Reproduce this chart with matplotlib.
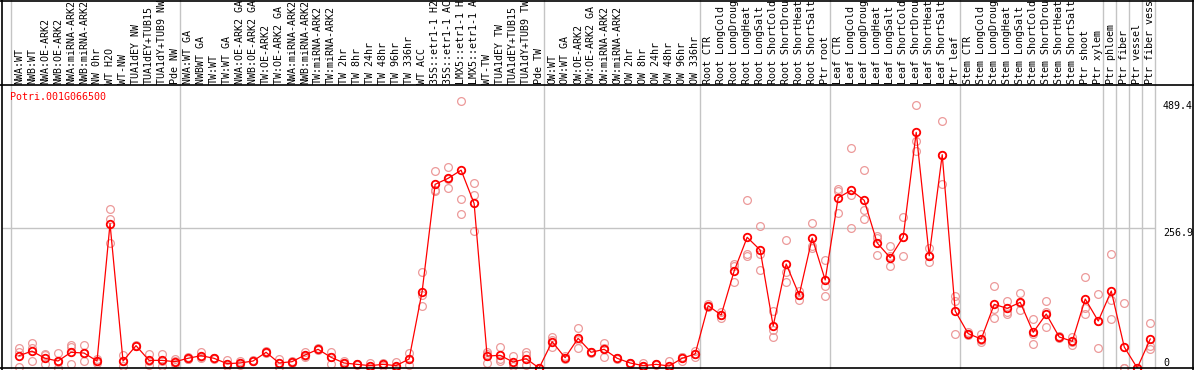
import matplotlib
matplotlib.use("Agg")
import matplotlib.pyplot as plt
from matplotlib.lines import Line2D

GENE = "Potri.001G066500"

# condition names, one list per block of the chart
group_names = [
    ["NWA:WT", "NWB:WT", "NWA:OE-ARK2", "NWB:OE-ARK2", "NWA:miRNA-ARK2", "NWB:miRNA-ARK2",
     "NW 0hr", "WT H2O", "WT-NW", "TUA1dEY NW", "TUA1dEY+TUB15", "TUA1dY+TUB9 NW", "Pde NW"],
    ["NWA:WT GA", "NWBWT GA", "TW:WT", "TW:WT GA", "NWA:OE-ARK2 GA", "NWB:OE-ARK2 GA",
     "TW:OE-ARK2", "TW:OE-ARK2 GA", "NWA:miRNA-ARK2", "NWB:miRNA-ARK2", "TW:miRNA-ARK2",
     "TW:miRNA-ARK2", "TW 2hr", "TW 8hr", "TW 24hr", "TW 48hr", "TW 96hr", "TW 336hr",
     "WT ACC", "35S::etr1-1 H2O", "35S::etr1-1 ACC", "LMX5::etr1-1 H2O", "LMX5::etr1-1 ACC",
     "WT-TW", "TUA1dEY TW", "TUA1dEY+TUB15", "TUA1dY+TUB9 TW", "Pde TW"],
    ["OW:WT", "OW:WT GA", "OW:OE-ARK2", "OW:OE-ARK2 GA", "OW:miRNA-ARK2", "OW:miRNA-ARK2",
     "OW 2hr", "OW 8hr", "OW 24hr", "OW 48hr", "OW 96hr", "OW 336hr"],
    ["Root CTR", "Root LongCold", "Root LongDrought", "Root LongHeat", "Root LongSalt",
     "Root ShortCold", "Root ShortDrought", "Root ShortHeat", "Root ShortSalt", "Ptr root"],
    ["Leaf CTR", "Leaf LongCold", "Leaf LongDrought", "Leaf LongHeat", "Leaf LongSalt",
     "Leaf ShortCold", "Leaf ShortDrought", "Leaf ShortHeat", "Leaf ShortSalt", "Ptr leaf"],
    ["Stem CTR", "Stem LongCold", "Stem LongDrought", "Stem LongHeat", "Stem LongSalt",
     "Stem ShortCold", "Stem ShortDrought", "Stem ShortHeat", "Stem ShortSalt",
     "Ptr shoot", "Ptr xylem"],
    ["Ptr phloem"],
    ["Ptr fiber"],
    ["Ptr vessel"],
    ["Ptr fiber vessel"],
]

mean_values = [
    22.6, 31, 17.8, 12.8, 28.8, 27.5, 12.8, 264.8, 12.8, 41, 14, 14, 11.6,
    17.8, 22.6, 17.8, 8, 9.2, 12.8, 28.8, 9.2, 11.6, 23.9, 34.3, 19.6, 9.2, 6.7, 4.3, 6.7,
    4.3, 16.5, 140, 337, 348, 363, 302, 22, 23.2, 11, 17, 0,
    48.3, 19, 54.5, 28.8, 34.3, 17.8, 9.2, 4.3, 6.7, 3.7, 17.8, 25.7,
    114.4, 97.2, 178, 239.8, 216.5, 77, 190.8, 134, 238.5, 161.5,
    312.5, 326, 307.7, 229.4, 202.4, 240.4, 432.4, 206, 391.4, 104.6,
    63, 53.2, 116.8, 109.5, 120.5, 65.5, 99, 56.9, 49, 126.6, 86.2,
    141.3, 38.5, 0, 53.2,
]

replicate_values = [
    [37, 30, 2], [45, 36, 12], [25, 23, 7], [27, 11, 0], [42, 38, 7], [42, 28, 12],
    [17, 12, 9], [291, 273, 230], [24, 12, 3], [43, 40, 40], [26, 12, 5], [26, 12, 3],
    [16, 12, 7],
    [20, 17, 16], [30, 20, 18], [19, 18, 16], [14, 8, 3], [13, 9, 6], [14, 13, 12],
    [31, 29, 27], [16, 10, 2], [13, 11, 9], [30, 22, 20], [36, 34, 33], [30, 21, 8],
    [12, 9, 7], [7, 7, 6], [9, 4, 0], [9, 7, 4], [11, 2, 0], [28, 17, 5],
    [176, 134, 114], [362, 327, 324], [369, 347, 331], [489.4, 311, 283], [339, 317, 251],
    [30, 26, 10], [39, 17, 13], [22, 8, 4], [29, 23, 5], [0, 0, 0],
    [56, 51, 38], [22, 19, 16], [74, 52, 37], [30, 29, 27], [46, 36, 21], [19, 18, 17],
    [10, 9, 8], [9, 3, 2], [8, 7, 5], [12, 0, 0], [21, 20, 13], [31, 26, 20],
    [117, 114, 112], [103, 98, 91], [190, 188, 158], [308, 210, 205], [260, 210, 179],
    [105, 69, 56], [235, 176, 157], [141, 134, 124], [266, 223, 220], [198, 150, 133],
    [325, 328, 284], [404, 318, 256], [363, 290, 273], [242, 239, 207], [224, 205, 188],
    [277, 240, 205], [483, 416, 399], [220, 206, 195], [453, 390, 337], [132, 123, 62],
    [66, 63, 60], [62, 51, 47], [150, 109, 91], [123, 102, 100], [138, 120, 107],
    [90, 63, 44], [123, 102, 75], [59, 57, 55], [57, 47, 43], [167, 111, 100],
    [136, 86, 37],
    [210, 125, 89], [120, 0, 0], [0, 0, 0], [83, 41, 35],
]

y_ticks = [489.4, 256.9, 0]
y_top = 519.3

W, H = 1194, 370
# plot box in pixels
left_px, right_px, top_px, bottom_px = 2, 1155.3, 85, 368
first_px, step_px = 19, 13.003

names = [n for g in group_names for n in g]
xs = list(range(len(names)))

fig = plt.figure(figsize=(W / 100, H / 100), dpi=100)
ax = fig.add_axes([left_px / W, 1 - bottom_px / H,
                   (right_px - left_px) / W, (bottom_px - top_px) / H])
ax.set_xlim((left_px - first_px) / step_px, (right_px - first_px) / step_px)
ax.set_ylim(0, y_top)
ax.axis("off")

grey = "#c4c4c4"
mono = "DejaVu Sans Mono"
fs = 7.2
ax_h = bottom_px - top_px

# group separators run through the label area up to the top edge
start = 0
for g in group_names + [[]]:
    ax.axvline(start - 0.615, ymin=0, ymax=bottom_px / ax_h, color=grey, lw=1.0,
               clip_on=False, zorder=1)
    start += len(g)

ax.axhline(256.9, color=grey, lw=1.0, zorder=1)

# replicates, then the mean line on top
for x, reps in zip(xs, replicate_values):
    ax.plot([x] * len(reps), reps, "o", ms=5.6, mfc="none", mec="#ec9a9a", mew=0.9,
            clip_on=False, zorder=2)
ax.plot(xs, mean_values, "-", color="red", lw=0.9, zorder=3)
ax.plot(xs, mean_values, "o", ms=5.4, mfc="none", mec="red", mew=1.3,
        clip_on=False, zorder=4)

for x, name in zip(xs, names):
    ax.text(x, 1 + 1.2 / ax_h, name, transform=ax.get_xaxis_transform(),
            rotation=90, ha="center", va="bottom", family=mono, fontsize=fs,
            clip_on=False)

ax.text(8 / (right_px - left_px), (bottom_px - 97) / ax_h, GENE, transform=ax.transAxes,
        color="red", family=mono, fontsize=fs, ha="left", va="center")

# value labels in the right margin
lab_x = (1163 - left_px) / (right_px - left_px)
for v in y_ticks:
    if v == 0:
        ax.text(lab_x, 1.5 / ax_h, "0", transform=ax.get_yaxis_transform(),
                family=mono, fontsize=fs, ha="left", va="bottom", clip_on=False)
    else:
        ax.text(lab_x, v, "%.1f" % v, transform=ax.get_yaxis_transform(),
                family=mono, fontsize=fs, ha="left", va="top", clip_on=False)

# black frame lines
def hline(y, x0=0, x1=W):
    fig.add_artist(Line2D([x0 / W, x1 / W], [1 - y / H, 1 - y / H], color="black", lw=1.2))

def vline(x, y0=0, y1=H):
    fig.add_artist(Line2D([x / W, x / W], [1 - y0 / H, 1 - y1 / H], color="black", lw=1.2))

hline(0.5)
hline(top_px)
hline(bottom_px)
vline(1.5)
vline(W - 1.5)

fig.savefig("out.png", dpi=100)
